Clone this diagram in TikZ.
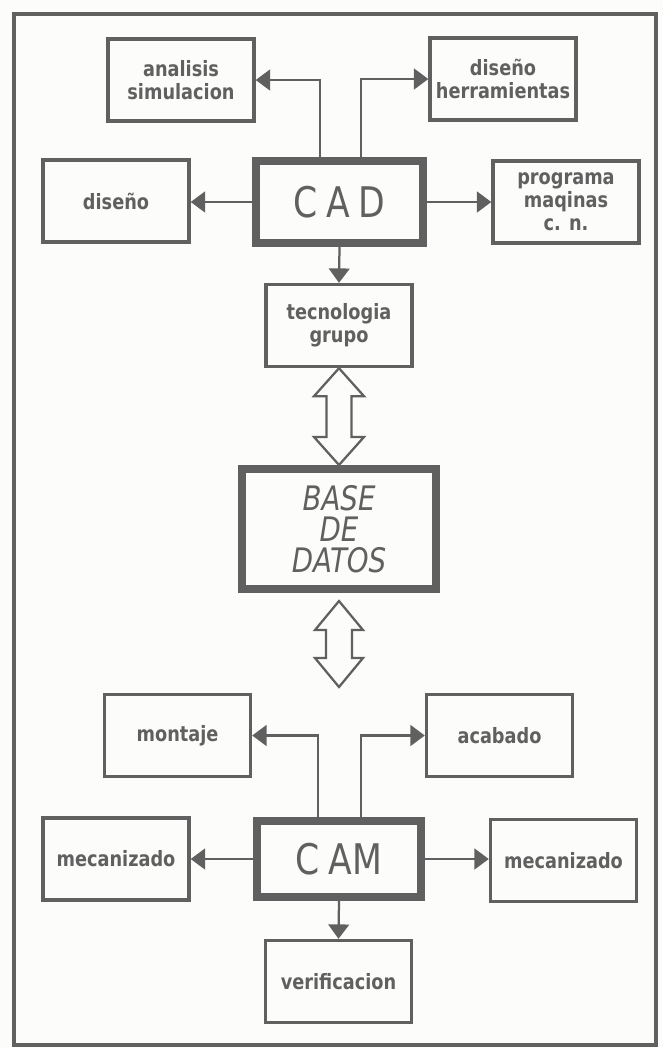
\documentclass[tikz,border=0pt]{standalone}
\usepackage{fontspec}
\newfontfamily\labelfont[FakeStretch=0.84]{DejaVu Sans}
\newfontfamily\bigfont[FakeStretch=0.82]{DejaVu Sans}
\usetikzlibrary{arrows.meta,calc}
\definecolor{ink}{RGB}{96,96,96}
\definecolor{paper}{RGB}{252,252,250}

\begin{document}
\begin{tikzpicture}[
    x=0.025cm, y=-0.025cm,
    >={Triangle[length=0.36cm,width=0.52cm]},
    box/.style={rectangle, draw=ink, line width=2.4pt, minimum width=3.65cm, minimum height=2.05cm,
                inner sep=0pt, align=center, text=ink, font=\labelfont\bfseries\fontsize{15}{16.5}\selectfont},
    mainbox/.style={rectangle, draw=ink, line width=5.7pt, inner sep=0pt, align=center, text=ink},
    link/.style={->, draw=ink, line width=1.6pt},
    fat/.style={draw=ink, line width=1.6pt, fill=paper}
]
\fill[paper] (0,0) rectangle (663,1048);
\useasboundingbox (0,0) rectangle (663,1048);
\draw[ink, line width=2.2pt] (14,14) rectangle (656,1045);

% Blocks
\node[mainbox, minimum width=4.175cm, minimum height=2.05cm, font=\bigfont\fontsize{30}{36}\selectfont] (cad) at (339.5,202) {C\hspace{0.22cm}A\hspace{0.22cm}D};
\node[box] (ana) at (181,80) {analisis\\simulacion};
\node[box] (her) at (503,79) {diseño\\herramientas};
\node[box] (dis) at (116,201) {diseño};
\node[box] (prog) at (566,202) {programa\\maqinas\\c. n.};
\node[box] (tec) at (339,325.5) {tecnologia\\grupo};

\node[mainbox, minimum width=4.85cm, minimum height=3cm, font=\bigfont\itshape\fontsize{24}{22}\selectfont] (base) at (339,529) {BASE\\DE\\DATOS};

\node[mainbox, minimum width=4.1cm, minimum height=1.9cm, font=\bigfont\fontsize{30}{36}\selectfont] (cam) at (339,859) {C\hspace{0.22cm}AM};
\node[box] (mont) at (177.5,735.5) {montaje};
\node[box] (acab) at (499.5,735.5) {acabado};
\node[box] (mecl) at (116,859) {mecanizado};
\node[box] (mecr) at (563.5,860.5) {mecanizado};
\node[box] (ver) at (338.5,981.5) {verificacion};

\coordinate (dbout) at ($(base.south)+(0,8)$);
\coordinate (camin) at (339,687);

% Connections
\draw[link] ($(cad.north)+(-19.5,0)$) |- (ana.east);
\draw[link] ($(cad.north)+(21.5,0)$) |- (her.west);
\draw[link] (cad.west) -- (cad.west -| dis.east);
\draw[link] (cad.east) -- (cad.east -| prog.west);
\draw[link] (cad.south) -- (tec.north);

\draw[fat] (tec.south) -- ++(-25,28) -- ++(12.5,0) -- ($(base.north)+(-12.5,-28)$) -- ++(-12.5,0)
    -- (base.north) -- ++(25,-28) -- ++(-12.5,0) -- ($(tec.south)+(12.5,28)$) -- ++(12.5,0) -- cycle;
\draw[fat] (dbout) -- ++(-24,29) -- ++(11,0) -- ($(camin)+(-13,-29)$) -- ++(-11,0)
    -- (camin) -- ++(24,-29) -- ++(-11,0) -- ($(dbout)+(13,29)$) -- ++(11,0) -- cycle;

\draw[link] ($(cam.north)+(-21,0)$) |- (mont.east);
\draw[link] ($(cam.north)+(22,0)$) |- (acab.west);
\draw[link] (cam.west) -- (cam.west -| mecl.east);
\draw[link] (cam.east) -- (cam.east -| mecr.west);
\draw[link] (cam.south) -- (ver.north);
\end{tikzpicture}
\end{document}
